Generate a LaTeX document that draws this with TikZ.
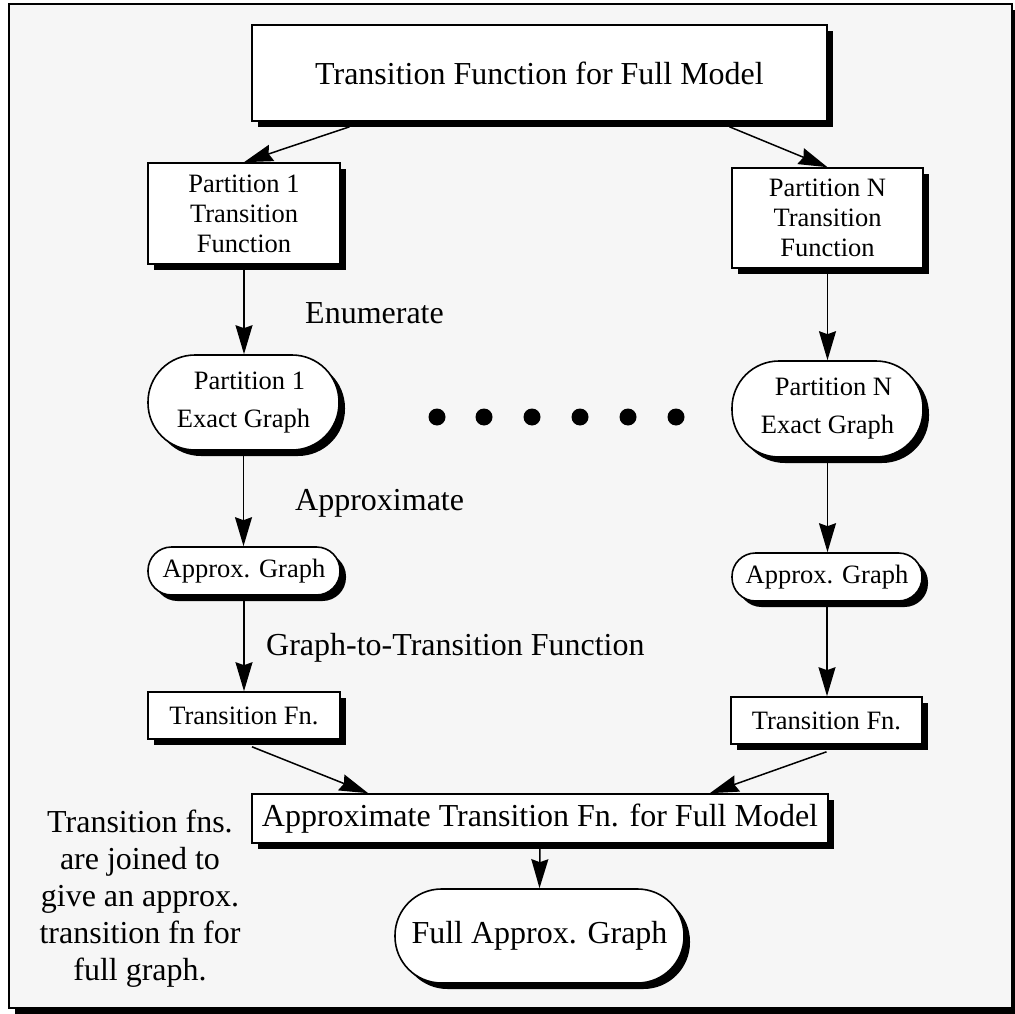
\documentclass[tikz,border=0pt]{standalone}
\usepackage{fontspec}
\setmainfont{Liberation Serif}
\usetikzlibrary{arrows.meta,shadows}
\definecolor{panel}{HTML}{F6F6F6}
\newcommand\bigtxt{\fontsize{32}{37}\selectfont}
\newcommand\boxtxt{\fontsize{26.5}{30}\selectfont}
\newcommand\pilltxt{\fontsize{26.5}{38}\selectfont}
\tikzset{
  hardshadow/.style={drop shadow={shadow xshift=6pt,shadow yshift=-6pt,fill=black,opacity=1}},
  boxnode/.style={draw=black,line width=1.6pt,fill=white,hardshadow,align=center,inner sep=0pt},
  pillnode/.style={boxnode,rounded corners=#1},
  arr/.style={line width=1.5pt,-{Stealth[length=29pt,width=17pt,inset=3pt]}},
  lbl/.style={font=\bigtxt,inner sep=0pt,anchor=base west},
  dotnode/.style={circle,fill=black,inner sep=0pt,minimum width=16pt,minimum height=17pt}
}
\begin{document}
\begin{tikzpicture}[x=1pt,y=-1pt]
\useasboundingbox (0,0) rectangle (1015,1014);
% outer panel
\draw[line width=1.6pt,fill=panel,hardshadow] (9,4) rectangle (1012,1008);

% boxes and pills
\node[boxnode,minimum width=575pt,minimum height=96pt,font=\bigtxt] (top) at (539.5,73)
  {Transition Function for Full Model};
\node[boxnode,minimum width=192pt,minimum height=101pt,font=\boxtxt] (p1tf) at (244,213.5)
  {Partition 1\\Transition\\Function};
\node[boxnode,minimum width=191pt,minimum height=100pt,font=\boxtxt] (pNtf) at (827.5,218)
  {Partition N\\Transition\\Function};
\node[pillnode=47pt,minimum width=191pt,minimum height=95pt,font=\pilltxt] (p1ex) at (243.5,402.5)
  {\hspace*{12pt}Partition 1\\Exact Graph};
\node[pillnode=47pt,minimum width=191pt,minimum height=96pt,font=\pilltxt] (pNex) at (827.5,409)
  {\hspace*{12pt}Partition N\\Exact Graph};
\node[pillnode=23.5pt,minimum width=192pt,minimum height=48pt,font=\boxtxt] (p1ap) at (244,571)
  {Approx. Graph};
\node[pillnode=23.5pt,minimum width=190pt,minimum height=48pt,font=\boxtxt] (pNap) at (827,577)
  {Approx. Graph};
\node[boxnode,minimum width=192pt,minimum height=47pt,font=\boxtxt] (p1fn) at (244,715.5)
  {Transition Fn.};
\node[boxnode,minimum width=191pt,minimum height=47pt,font=\boxtxt] (pNfn) at (826.5,720.5)
  {Transition Fn.};
\node[boxnode,minimum width=576pt,minimum height=49pt,font=\bigtxt] (full) at (540,818.5)
  {Approximate Transition Fn. for Full Model};
\node[pillnode=46.5pt,minimum width=289pt,minimum height=94pt,font=\bigtxt] (fullg) at (539.5,936)
  {Full Approx. Graph};

% ellipsis between the two partition columns
\foreach \i/\x in {1/437,2/484,3/532,4/580,5/628,6/676}
  \node[dotnode] (dot\i) at (\x,417) {};

% step labels
\node[lbl] (enum) at (305,323) {Enumerate};
\node[lbl] (approx) at (295,510) {Approximate};
\node[lbl] (g2t) at (266,655) {Graph-to-Transition Function};
\node[font=\bigtxt,align=center,inner sep=0pt] (note) at (140,899)
  {Transition fns.\\are joined to\\give an approx.\\transition fn for\\full graph.};

% connectors
\draw[arr] ([xshift=-190pt,yshift=-5pt]top.south) -- (p1tf.north);
\draw[arr] ([xshift=190pt,yshift=-5pt]top.south) -- (pNtf.north);
\draw[arr] (p1tf.south) -- (p1tf.south |- p1ex.north);
\draw[arr] (pNtf.south) -- (pNtf.south |- pNex.north);
\draw[arr] (p1ex.south) -- (p1ex.south |- p1ap.north);
\draw[arr] (pNex.south) -- (pNex.south |- pNap.north);
\draw[arr] (p1ap.south) -- (p1ap.south |- p1fn.north);
\draw[arr] (pNap.south) -- (pNap.south |- pNfn.north);
\draw[arr] ([xshift=8pt,yshift=-7pt]p1fn.south) -- ([xshift=117pt]full.north west);
\draw[arr] ([yshift=-7pt]pNfn.south) -- ([xshift=-119pt]full.north east);
\draw[arr] (full.south) -- (fullg.north);
\end{tikzpicture}
\end{document}
